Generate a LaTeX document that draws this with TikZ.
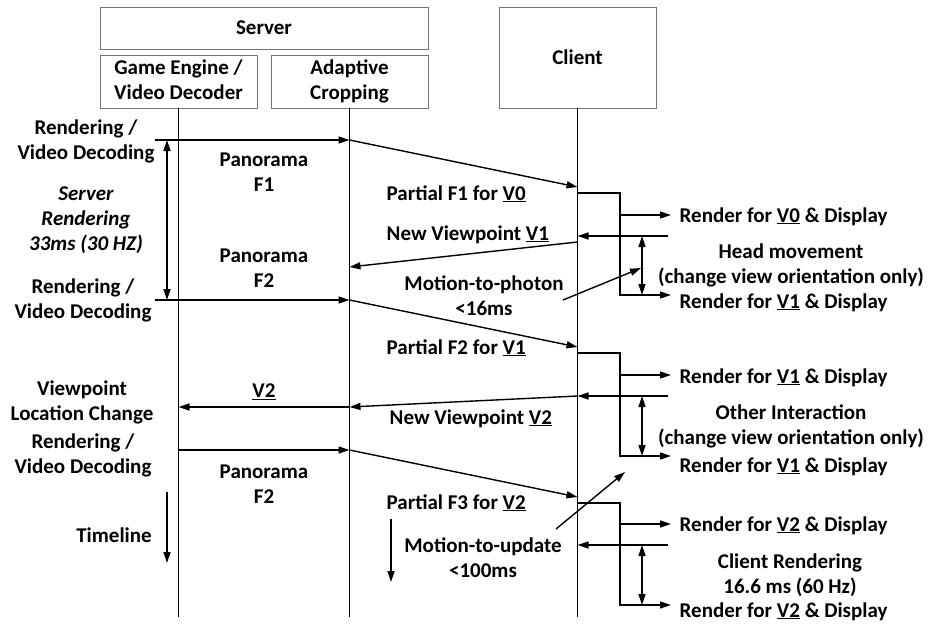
\documentclass[tikz,border=0pt]{standalone}
\usepackage{fontspec}
\setmainfont{Carlito}
\usepackage{tikz}
\usetikzlibrary{arrows.meta}
\newcommand{\lblfont}{\fontsize{21}{25}\selectfont\bfseries}
\newcommand{\vp}[1]{\underline{#1}}
\tikzset{
every picture/.style={line width=1.4pt, >={Triangle[length=11pt,width=7pt]},
                      x=1pt, y=-1pt},
%%%%%%%%%%  Node styles
actor/.style={draw=black!55, line width=0.9pt, align=center, inner sep=0pt},
txt/.style={align=center, inner sep=0pt},
%%%% different line styles:
lifeline/.style={line width=1.4pt},
msg/.style={->, line width=1.4pt},
span/.style={<->, line width=1.4pt}
}

\begin{document}
\begin{tikzpicture}[font=\lblfont]
\useasboundingbox (0,0) rectangle (928,624);
%%%%%%% boxes on top
\node[actor, minimum width=328pt, minimum height=42pt] (server) at (264,28) {Server};
\node[actor, minimum width=157pt, minimum height=53pt] (engine) at (178.5,81.5)
     {\strut Game Engine /\\Video Decoder\strut};
\node[actor, minimum width=157pt, minimum height=53pt] (crop) at (349.5,81.5)
     {\strut Adaptive\\Cropping\strut};
\node[actor, minimum width=157pt, minimum height=101pt] (client) at (577.5,57.5) {Client};
%%%%%%% lifelines
\coordinate (engine end) at (178.5,617);
\coordinate (crop end) at (349.5,617);
\coordinate (client end) at (577.5,617);
\draw[lifeline] (engine) -- (engine end);
\draw[lifeline] (crop) -- (crop end);
\draw[lifeline] (client) -- (client end);

%%%%%%% first frame
\coordinate (s1) at (155,140);
\coordinate (a1) at (349.5,140);
\coordinate (c1) at (577.5,187);
\coordinate (c1o) at (577.5,193);
\coordinate (k1) at (620,295);
\coordinate (o1) at (671,215);
\coordinate (o2) at (671,295);
\coordinate (u1) at (668,236);
\coordinate (c2) at (577.5,236);
\coordinate (c2o) at (577.5,242);
\coordinate (a2) at (349.5,267);
\coordinate (h1) at (642,236);
\coordinate (h2) at (642,295);
\coordinate (m1) at (563,300);
\coordinate (m2) at (641,268);
\coordinate (t1) at (167,140);
\coordinate (t2) at (167,300);
\draw[msg] (s1) -- (a1);
\draw[msg] (a1) -- (c1);
\draw[msg] (c1o) -| (k1) -- (o2);
\draw[msg] (k1 |- o1) -- (o1);
\draw[msg] (u1) -- (c2);
\draw[msg] (c2o) -- (a2);
\draw[span] (h1) -- (h2);
\draw[msg] (m1) -- (m2);
\draw[span] (t1) -- (t2);

%%%%%%% second frame
\coordinate (s2) at (155,300);
\coordinate (a3) at (349.5,300);
\coordinate (c3) at (577.5,347);
\coordinate (c3o) at (577.5,353);
\coordinate (k2) at (620,456);
\coordinate (o3) at (671,375);
\coordinate (o4) at (671,456);
\coordinate (u2) at (668,396);
\coordinate (c4) at (577.5,396);
\coordinate (a4) at (349.5,407);
\coordinate (e4) at (178.5,407);
\coordinate (h3) at (642,396);
\coordinate (h4) at (642,456);
\draw[msg] (s2) -- (a3);
\draw[msg] (a3) -- (c3);
\draw[msg] (c3o) -| (k2) -- (o4);
\draw[msg] (k2 |- o3) -- (o3);
\draw[msg] (u2) -- (c4);
\draw[msg] (c4) -- (a4);
\draw[msg] (a4) -- (e4);
\draw[span] (h3) -- (h4);

%%%%%%% third frame
\coordinate (e5) at (178.5,450);
\coordinate (a5) at (349.5,450);
\coordinate (c5) at (577.5,497);
\coordinate (c5o) at (577.5,503);
\coordinate (k3) at (620,605);
\coordinate (o5) at (671,524);
\coordinate (o6) at (671,605);
\coordinate (u3) at (668,545);
\coordinate (c6) at (577.5,545);
\coordinate (h5) at (642,545);
\coordinate (h6) at (642,605);
\coordinate (m3) at (556,529);
\coordinate (m4) at (625,472);
\coordinate (t3) at (167,492);
\coordinate (t4) at (167,563);
\coordinate (d1) at (391,519);
\coordinate (d2) at (391,582);
\draw[msg] (e5) -- (a5);
\draw[msg] (a5) -- (c5);
\draw[msg] (c5o) -| (k3) -- (o6);
\draw[msg] (k3 |- o5) -- (o5);
\draw[msg] (u3) -- (c6);
\draw[span] (h5) -- (h6);
\draw[msg] (m3) -- (m4);
\draw[msg] (t3) -- (t4);
\draw[msg] (d1) -- (d2);

%%%%%%% left labels
\node[txt] (render1) at (86,141) {Rendering /\\Video Decoding};
\node[txt, font=\lblfont\itshape] (srvtime) at (86,220) {Server\\Rendering\\33ms (30 HZ)};
\node[txt] (render2) at (83,300) {Rendering /\\Video Decoding};
\node[txt] (vpchange) at (82,402) {Viewpoint\\Location Change};
\node[txt] (render3) at (83,455) {Rendering /\\Video Decoding};
\node[txt] (timeline) at (114,535) {Timeline};
%%%%%%% middle labels
\node[txt] (pano1) at (264,172) {Panorama\\F1};
\node[txt] (pano2) at (264,268) {Panorama\\F2};
\node[txt] (vtwo) at (264,392) {\vp{V2}};
\node[txt] (pano3) at (264,484) {Panorama\\F2};
\node[txt, anchor=base west] (part1) at (386,200) {Partial F1 for \vp{V0}};
\node[txt, anchor=base west] (newvp1) at (386,240) {New Viewpoint \vp{V1}};
\node[txt] (mtp) at (484,296) {Motion-to-photon\\<16ms};
\node[txt, anchor=base west] (part2) at (386,354) {Partial F2 for \vp{V1}};
\node[txt, anchor=base west] (newvp2) at (389,424) {New Viewpoint \vp{V2}};
\node[txt, anchor=base west] (part3) at (386,509) {Partial F3 for \vp{V2}};
\node[txt] (mtu) at (483,558) {Motion-to-update\\<100ms};
%%%%%%% right labels
\node[txt, anchor=base west] (disp1) at (679,222) {Render for \vp{V0} \& Display};
\node[txt] (headmv) at (791,265) {Head movement\\(change view orientation only)};
\node[txt, anchor=base west] (disp2) at (679,308) {Render for \vp{V1} \& Display};
\node[txt, anchor=base west] (disp3) at (679,383) {Render for \vp{V1} \& Display};
\node[txt] (otherint) at (791,426) {Other Interaction\\(change view orientation only)};
\node[txt, anchor=base west] (disp4) at (679,472) {Render for \vp{V1} \& Display};
\node[txt, anchor=base west] (disp5) at (679,531) {Render for \vp{V2} \& Display};
\node[txt] (clrender) at (790,575) {Client Rendering\\16.6 ms (60 Hz)};
\node[txt, anchor=base west] (disp6) at (679,617) {Render for \vp{V2} \& Display};
\end{tikzpicture}
\end{document}
